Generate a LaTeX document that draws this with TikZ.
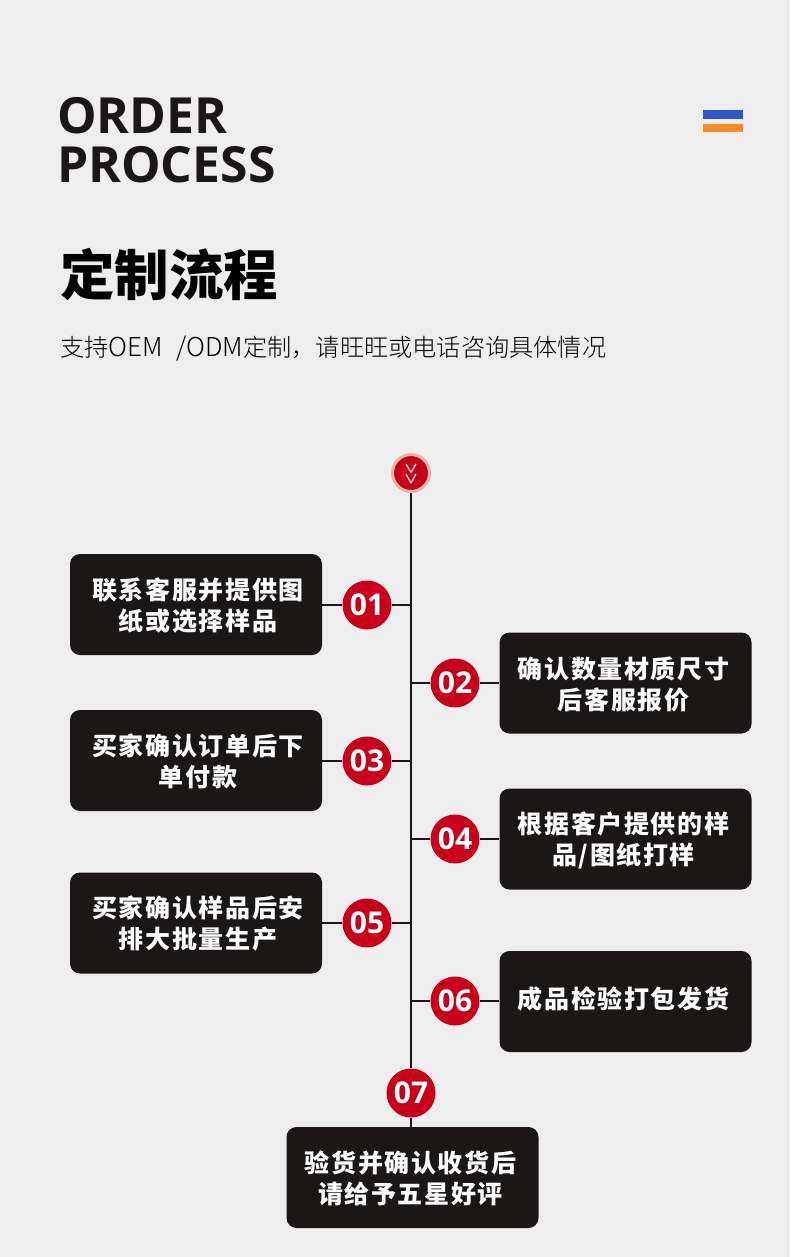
\documentclass[tikz,border=0pt]{standalone}
\usepackage{fontspec}
\setmainfont{Open Sans}
\newfontfamily\cjk{Noto Sans CJK SC}
\newfontfamily\cjklight{Noto Sans CJK SC Light}
\newfontfamily\cjkblack{Noto Sans CJK SC Black}
\newfontfamily\cjkspaced[LetterSpace=6.5]{Noto Sans CJK SC}
\newcommand\lx{\hspace*{4pt}}
\newcommand\rx{\hspace*{4pt}}
\newcommand\dn[1]{\rule{0pt}{#1}}
\definecolor{bgc}{HTML}{EEEEEE}
\definecolor{boxc}{HTML}{1A1716}
\definecolor{redc}{HTML}{C8001A}
\definecolor{ringc}{HTML}{E8B5A8}
\definecolor{bluec}{HTML}{2A56C6}
\definecolor{orangec}{HTML}{FF8A1F}
\tikzset{
  stepbox/.style={fill=boxc,rounded corners=10pt,minimum width=252pt,minimum height=101pt,inner sep=0pt,
    text=white,align=center,font=\cjkspaced\bfseries\fontsize{25}{31}\selectfont},
  numdot/.style={circle,fill=redc,minimum size=49pt,inner sep=0pt,text=white,text height=21.5pt,text depth=0pt,font=\bfseries\fontsize{30}{30}\selectfont},
  branch/.style={draw=boxc,line width=1.3pt},
  spine/.style={draw=boxc,line width=2.2pt},
  chev/.style={draw=white,line width=1.1pt}
}
\begin{document}
\begin{tikzpicture}[x=1pt,y=-1pt]
\useasboundingbox (0,0) rectangle (790,1257);
\fill[bgc] (0,0) rectangle (790,1257);
% header
\node[anchor=base west,inner sep=0pt,text=boxc,font=\bfseries\fontsize{49.8}{49}\selectfont,align=left] (title) at (57,182.5) {ORDER\\PROCESS};
\node[anchor=base west,inner sep=0pt,text=black,font=\cjkblack\fontsize{54.5}{54}\selectfont] (head) at (60,295) {定制流程};
\node[anchor=base west,inner sep=0pt,text=black,font=\cjklight\fontsize{24.2}{24}\selectfont] (sub) at (60,356) {支持{\fontsize{26}{24}\selectfont OEM\hspace{8pt} /ODM}定制，请旺旺或电话咨询具体情况};
\fill[bluec] (703,110) rectangle (743,119);
\fill[orangec] (703,124) rectangle (743,132);
% top badge
\node[circle,fill=redc,draw=ringc,line width=3pt,minimum size=37pt,inner sep=0pt] (top) at (411,473) {};
% boxes
\node[stepbox] (b1) at (196,604.5) {\dn{24pt}\lx 联系客服并提供图\\\lx 纸或选择样品};
\node[stepbox] (b2) at (625.5,683) {\dn{24pt}确认数量材质尺寸\rx\\后客服报价\rx};
\node[stepbox] (b3) at (196,760.5) {\dn{24pt}\lx 买家确认订单后下\\\lx 单付款};
\node[stepbox] (b4) at (625.5,839) {\dn{24pt}根据客户提供的样\rx\\品/图纸打样\rx};
\node[stepbox] (b5) at (196,923) {\dn{23pt}\lx 买家确认样品后安\\\lx 排大批量生产};
\node[stepbox] (b6) at (625.5,1001.5) {\rule[-8pt]{0pt}{0pt}成品检验打包发货\rx};
\node[stepbox] (b7) at (412.5,1177.5) {\dn{24pt}验货并确认收货后\rx\\请给予五星好评\rx};
% numbers
\node[numdot] (n1) at (367,605) {01};
\node[numdot] (n2) at (455,683) {02};
\node[numdot] (n3) at (367,761) {03};
\node[numdot] (n4) at (455,839) {04};
\node[numdot] (n5) at (367,923) {05};
\node[numdot] (n6) at (455,1001) {06};
\node[numdot] (n7) at (411,1093) {07};
% spine joints
\coordinate (j1) at (411,605);
\coordinate (j2) at (411,683);
\coordinate (j3) at (411,761);
\coordinate (j4) at (411,839);
\coordinate (j5) at (411,923);
\coordinate (j6) at (411,1001);
\draw[spine] (top.south) -- (n7.north);
\draw[spine] (n7.south) -- (n7.south |- b7.north);
\foreach \i in {1,3,5} {
  \draw[branch] (b\i.east |- n\i) -- (n\i.west);
  \draw[branch] (n\i.east) -- (j\i);
}
\foreach \i in {2,4,6} {
  \draw[branch] (j\i) -- (n\i.west);
  \draw[branch] (n\i.east) -- (b\i.west |- n\i);
}
% chevrons
\draw[chev] ([shift={(-5,-9)}]top.center) -- ([shift={(0,-0.5)}]top.center) -- ([shift={(5,-9)}]top.center);
\draw[chev] ([shift={(-5,1)}]top.center) -- ([shift={(0,10)}]top.center) -- ([shift={(5,1)}]top.center);
\end{tikzpicture}
\end{document}
